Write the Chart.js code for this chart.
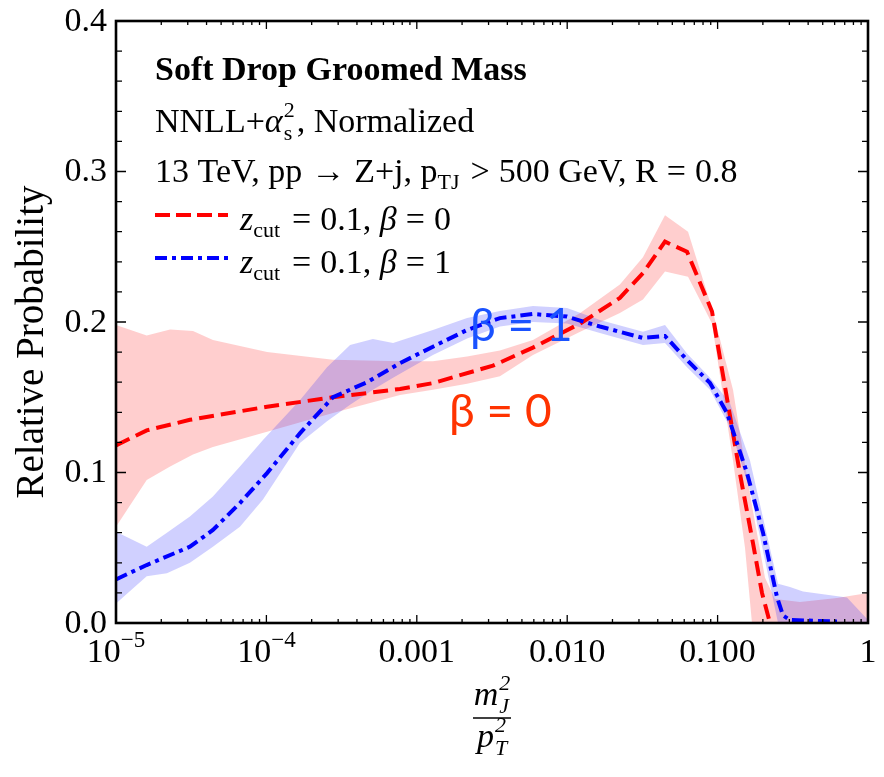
<!DOCTYPE html>
<html><head><meta charset="utf-8">
<script src="https://cdn.jsdelivr.net/npm/chart.js@4.4.1/dist/chart.umd.min.js"></script>
<style>html,body{margin:0;padding:0;background:#fff;}canvas{display:block;}</style>
</head><body>
<canvas id="c" width="884" height="777"></canvas>
<script>
// ---- data ----
const redLineX = [1.0e-5,1.60e-5,3.10e-5,1.01e-4,2.77e-4,7.73e-4,1.28e-3,3.21e-3,5.92e-3,1.22e-2,2.24e-2,3.19e-2,4.47e-2,6.26e-2,9.18e-2,0.1409,0.1719,0.1973,0.2230];
const redLineY = [0.118,0.128,0.135,0.1437,0.150,0.1555,0.1594,0.171,0.183,0.199,0.216,0.2325,0.2534,0.2467,0.207,0.099,0.053,0.020,0.0];
const blueLineX = [1.0e-5,1.60e-5,3.10e-5,4.41e-5,6.67e-5,1.01e-4,1.67e-4,2.77e-4,4.67e-4,7.73e-4,1.28e-3,2.16e-3,3.57e-3,5.92e-3,9.97e-3,1.65e-2,3.19e-2,4.47e-2,6.26e-2,8.90e-2,0.1155,0.1568,0.2004,0.2482,0.2721,0.3030,0.6222];
const blueLineY = [0.029,0.0385,0.0507,0.0618,0.0797,0.0996,0.126,0.150,0.160,0.1727,0.1836,0.1947,0.2026,0.2053,0.2036,0.197,0.1894,0.1907,0.1748,0.1595,0.1395,0.0997,0.060,0.0173,0.005,0.002,0.001];
const redBandX = [1.0e-5,1.60e-5,2.29e-5,3.25e-5,4.41e-5,1.01e-4,2.77e-4,7.73e-4,1.28e-3,2.16e-3,3.57e-3,5.92e-3,1.22e-2,2.24e-2,3.19e-2,4.47e-2,6.36e-2,9.18e-2,0.1266,0.1521,0.1693,0.2066,0.2407,0.3531,0.6222,1.0];
const redBandLo = [0.064,0.095,0.104,0.112,0.117,0.127,0.1395,0.1515,0.155,0.159,0.164,0.178,0.1936,0.206,0.215,0.2335,0.230,0.199,0.108,0.050,0.0,0,0,0,0,0];
const redBandHi = [0.198,0.191,0.195,0.194,0.188,0.180,0.175,0.174,0.174,0.177,0.181,0.188,0.206,0.225,0.243,0.271,0.260,0.209,0.155,0.105,0.078,0.030,0.016,0.014,0.0166,0.020];
const blueBandX = [1.0e-5,1.60e-5,2.18e-5,3.10e-5,4.41e-5,6.67e-5,9.49e-5,1.67e-4,2.53e-4,3.60e-4,5.11e-4,6.95e-4,1.28e-3,2.16e-3,3.57e-3,5.92e-3,9.97e-3,1.65e-2,3.19e-2,4.47e-2,6.26e-2,8.90e-2,0.1209,0.1642,0.2004,0.2522,0.3030,0.3697,0.7251,1.0];
const blueBandLo = [0.013,0.031,0.033,0.040,0.0507,0.064,0.082,0.1196,0.134,0.145,0.155,0.163,0.178,0.189,0.197,0.200,0.199,0.1927,0.1847,0.186,0.170,0.155,0.130,0.088,0.048,0.0,0,0,0,0];
const blueBandHi = [0.0607,0.0507,0.060,0.0707,0.084,0.104,0.1216,0.148,0.170,0.1847,0.1887,0.186,0.1947,0.2026,0.2073,0.2107,0.2093,0.2013,0.1936,0.198,0.179,0.163,0.146,0.108,0.070,0.026,0.024,0.021,0.017,0.002];
const xTickVals = [1e-5,1e-4,1e-3,1e-2,1e-1,1];
const xTickLabels = [["10","−5"],["10","−4"],["0.001"],["0.010"],["0.100"],["1"]];
const yTickVals = [0,0.1,0.2,0.3,0.4];
const yTickLabels = ["0.0","0.1","0.2","0.3","0.4"];
const legendLabels = ["0.1, ","0"];
const legendLabels2 = ["0.1, ","1"];

const pts = (xs, ys) => xs.map((x, i) => ({x, y: ys[i]}));
const SERIF = '"Liberation Serif","Times New Roman",serif';

function runWidth(ctx, r) {
  ctx.font = r.f;
  let w;
  if (r.sub !== undefined) w = Math.max(ctx.measureText(r.sub).width, ctx.measureText(r.sup).width);
  else w = ctx.measureText(r.t).width;
  return w + (r.dx || 0) + (r.pre || 0);
}
function drawRuns(ctx, x, y, runs, align) {
  let total = 0;
  runs.forEach(r => { total += runWidth(ctx, r); });
  let cx = align === 'center' ? x - total / 2 : (align === 'right' ? x - total : x);
  ctx.textAlign = 'left';
  ctx.textBaseline = 'alphabetic';
  runs.forEach(r => {
    const w = runWidth(ctx, r);
    ctx.font = r.f;
    const sx = cx + (r.pre || 0);
    if (r.sub !== undefined) {
      ctx.fillText(r.sup, sx, y - 15);
      ctx.fillText(r.sub, sx, y + 8);
    } else {
      ctx.fillText(r.t, sx, y + (r.dy || 0));
    }
    cx += w;
  });
  return total;
}

const deco = {
  id: 'deco',
  afterDatasetsDraw(chart) {
    const ctx = chart.ctx;
    const a = chart.chartArea;
    const xs = chart.scales.x, ys = chart.scales.y;
    ctx.save();
    ctx.fillStyle = '#000';
    ctx.strokeStyle = '#000';
    // ticks
    ctx.lineWidth = 1.3;
    ctx.beginPath();
    for (let e = -5; e <= 0; e++) {
      for (let m = 1; m <= 9; m++) {
        const v = m * Math.pow(10, e);
        if (v > 1.0000001) break;
        const px = xs.getPixelForValue(v);
        const len = m === 1 ? 8 : 4;
        ctx.moveTo(px, a.bottom); ctx.lineTo(px, a.bottom - len);
        ctx.moveTo(px, a.top); ctx.lineTo(px, a.top + len);
      }
    }
    for (let k = 0; k <= 20; k++) {
      const v = k * 0.02;
      const py = ys.getPixelForValue(v);
      const len = (k % 5 === 0) ? 10 : 6;
      ctx.moveTo(a.left, py); ctx.lineTo(a.left + len, py);
      ctx.moveTo(a.right, py); ctx.lineTo(a.right - len, py);
    }
    ctx.stroke();
    // frame
    ctx.lineWidth = 2.6;
    ctx.strokeRect(a.left, a.top, a.right - a.left, a.bottom - a.top);
    // y tick labels
    ctx.font = '34px ' + SERIF;
    ctx.textAlign = 'right';
    ctx.textBaseline = 'middle';
    yTickVals.forEach((v, i) => ctx.fillText(yTickLabels[i], 107, ys.getPixelForValue(v) + 1));
    // x tick labels
    xTickVals.forEach((v, i) => {
      const px = xs.getPixelForValue(v);
      const lab = xTickLabels[i];
      if (lab.length === 2) {
        drawRuns(ctx, px, 662, [{t: lab[0], f: '34px ' + SERIF}, {t: lab[1], f: '23px ' + SERIF, dy: -15}], 'center');
      } else {
        drawRuns(ctx, px, 662, [{t: lab[0], f: '34px ' + SERIF}], 'center');
      }
    });
    // y axis title
    ctx.save();
    ctx.translate(43, 342);
    ctx.rotate(-Math.PI / 2);
    ctx.font = '39px ' + SERIF;
    ctx.textAlign = 'center';
    ctx.textBaseline = 'alphabetic';
    ctx.fillText('Relative Probability', 0, 0);
    ctx.restore();
    // x axis title (fraction)
    const cx = (a.left + a.right) / 2;
    drawRuns(ctx, cx, 705, [{t: 'm', f: 'italic 34px ' + SERIF}, {sub: 'J', sup: '2', f: 'italic 22px ' + SERIF, pre: 1}], 'center');
    drawRuns(ctx, cx, 747, [{t: 'p', f: 'italic 34px ' + SERIF}, {sub: 'T', sup: '2', f: 'italic 22px ' + SERIF, pre: 1}], 'center');
    ctx.lineWidth = 1.6;
    ctx.beginPath(); ctx.moveTo(cx - 19, 718); ctx.lineTo(cx + 19, 718); ctx.stroke();
    // header texts
    ctx.fillStyle = '#000';
    drawRuns(ctx, 155, 80, [{t: 'Soft Drop Groomed Mass', f: 'bold 34px ' + SERIF}]);
    drawRuns(ctx, 155, 132, [
      {t: 'NNLL+', f: '34px ' + SERIF},
      {t: 'α', f: 'italic 34px ' + SERIF, dx: 1},
      {sub: 's', sup: '2', f: '22px ' + SERIF, dx: 2},
      {t: ', Normalized', f: '34px ' + SERIF}
    ]);
    drawRuns(ctx, 155, 182, [
      {t: '13 TeV, pp', f: '34px ' + SERIF},
      {t: '→', f: '34px ' + SERIF, pre: 9, dx: 9},
      {t: 'Z+j, p', f: '34px ' + SERIF},
      {t: 'TJ', f: '22px ' + SERIF, dy: 7, dx: 2},
      {t: '>', f: '34px ' + SERIF, pre: 9, dx: 9},
      {t: '500 GeV, R', f: '34px ' + SERIF},
      {t: '=', f: '34px ' + SERIF, pre: 9, dx: 9},
      {t: '0.8', f: '34px ' + SERIF}
    ]);
    // legend
    const legends = [
      {color: '#ff0000', dash: [15, 6], y: 215, base: 230, lab: legendLabels},
      {color: '#0000ff', dash: [12, 5, 4, 5], y: 258, base: 273, lab: legendLabels2}
    ];
    legends.forEach(l => {
      ctx.save();
      ctx.strokeStyle = l.color;
      ctx.lineWidth = 4;
      ctx.setLineDash(l.dash);
      ctx.beginPath(); ctx.moveTo(155, l.y); ctx.lineTo(228, l.y); ctx.stroke();
      ctx.restore();
      ctx.fillStyle = '#000';
      drawRuns(ctx, 240, l.base, [
        {t: 'z', f: 'italic 34px ' + SERIF},
        {t: 'cut', f: '22px ' + SERIF, dy: 7, dx: 3},
        {t: '=', f: '34px ' + SERIF, pre: 9, dx: 9},
        {t: l.lab[0], f: '34px ' + SERIF},
        {t: 'β', f: 'italic 34px ' + SERIF},
        {t: '=', f: '34px ' + SERIF, pre: 9, dx: 9},
        {t: l.lab[1], f: '34px ' + SERIF}
      ]);
    });
    // curve labels
    ctx.font = '46px Lato, "Open Sans", sans-serif';
    ctx.textAlign = 'left';
    ctx.textBaseline = 'alphabetic';
    ctx.fillStyle = '#1a52ff';
    ctx.fillText('β = 1', 470, 341);
    ctx.fillStyle = '#ff3300';
    ctx.fillText('β = 0', 449, 427);
    ctx.restore();
  }
};

new Chart(document.getElementById('c'), {
  type: 'scatter',
  data: {
    datasets: [
      {data: pts(redBandX, redBandLo), showLine: true, borderWidth: 0, pointRadius: 0, fill: false, order: 5, borderColor: 'rgba(0,0,0,0)'},
      {data: pts(redBandX, redBandHi), showLine: true, borderWidth: 0, pointRadius: 0, fill: '-1', order: 4, borderColor: 'rgba(0,0,0,0)', backgroundColor: 'rgba(255,30,30,0.22)'},
      {data: pts(blueBandX, blueBandLo), showLine: true, borderWidth: 0, pointRadius: 0, fill: false, order: 3, borderColor: 'rgba(0,0,0,0)'},
      {data: pts(blueBandX, blueBandHi), showLine: true, borderWidth: 0, pointRadius: 0, fill: '-1', order: 2, borderColor: 'rgba(0,0,0,0)', backgroundColor: 'rgba(40,40,255,0.22)'},
      {data: pts(redLineX, redLineY), showLine: true, borderWidth: 4, pointRadius: 0, fill: false, order: 1, borderColor: '#ff0000', borderDash: [15, 7]},
      {data: pts(blueLineX, blueLineY), showLine: true, borderWidth: 4, pointRadius: 0, fill: false, order: 0, borderColor: '#0000ff', borderDash: [12, 5, 4, 5]}
    ]
  },
  options: {
    responsive: false,
    animation: false,
    devicePixelRatio: 1,
    layout: {padding: {left: 116, right: 16, top: 21, bottom: 154}},
    scales: {
      x: {type: 'logarithmic', min: 1e-5, max: 1, display: false},
      y: {type: 'linear', min: 0, max: 0.4, display: false}
    },
    plugins: {legend: {display: false}, tooltip: {enabled: false}}
  },
  plugins: [deco]
});
</script>
</body></html>
